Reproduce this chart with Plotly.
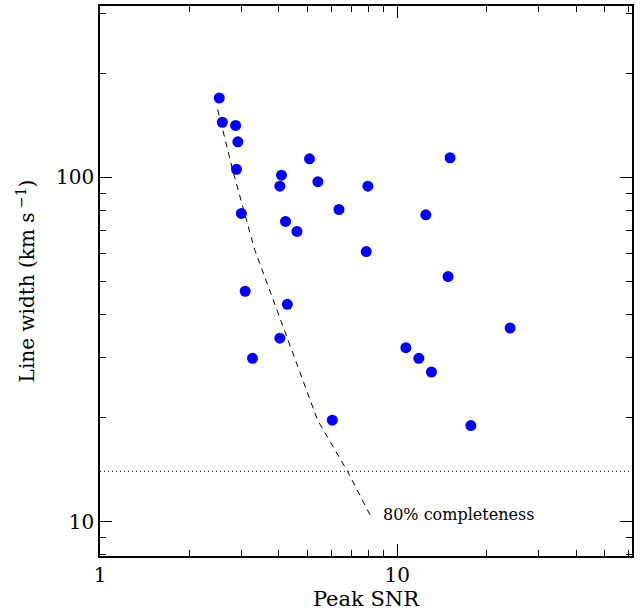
import math
import plotly.graph_objects as go

# Sources: peak signal-to-noise ratio and line width (km/s)
peak_snr = [2.52, 2.58, 2.86, 2.91, 2.88, 5.07, 4.08, 4.03, 5.41, 7.97,
            2.99, 6.37, 4.21, 4.60, 7.87, 15.07, 12.49, 14.84, 24.0, 10.70,
            11.83, 13.04, 3.26, 4.27, 4.03, 6.05, 17.7, 3.08]
line_width = [170.2, 144.7, 141.6, 126.9, 105.6, 113.3, 101.5, 94.3, 97.2, 94.3,
              78.6, 80.7, 74.5, 69.7, 60.9, 114.1, 77.9, 51.5, 36.5, 32.0,
              29.8, 27.2, 29.8, 42.8, 34.1, 19.7, 19.0, 46.7]

# 80% completeness limit curve
compl_snr = [2.49, 2.79, 3.31, 4.81, 5.40, 6.81, 8.21]
compl_width = [157.6, 105.8, 61.9, 26.1, 19.7, 13.98, 10.23]
compl_label = "80% completeness"
compl_label_pos = (8.81, 10.48)

# Horizontal reference level (km/s)
width_floor = 14.0

# Axis ticks
x_major = [1, 10]
x_minor = [2, 3, 4, 5, 6, 7, 8, 9, 20, 30, 40, 50, 60]
y_major = [10, 100]
y_minor = [8, 9, 20, 30, 40, 50, 60, 70, 80, 90, 200, 300]

x_range = [1.0, 61.7]
y_range = [7.94, 315.0]

FONT = "DejaVu Serif"

fig = go.Figure()

fig.add_trace(go.Scatter(
    x=compl_snr, y=compl_width, mode="lines",
    line=dict(color="black", width=1, dash="6px,5px"),
    hoverinfo="skip", showlegend=False,
))

fig.add_trace(go.Scatter(
    x=x_range, y=[width_floor, width_floor], mode="lines",
    line=dict(color="black", width=1, dash="1px,3px"),
    hoverinfo="skip", showlegend=False,
))

fig.add_trace(go.Scatter(
    x=peak_snr, y=line_width, mode="markers",
    marker=dict(color="#0000ff", size=11, line=dict(width=0)),
    showlegend=False,
))

# annotation positions on log axes are given in log10 units
fig.add_annotation(
    x=math.log10(compl_label_pos[0]), y=math.log10(compl_label_pos[1]),
    text=compl_label, showarrow=False,
    xanchor="left", yanchor="middle",
    font=dict(family=FONT, size=16, color="black"),
)

axis_common = dict(
    type="log",
    showgrid=False, zeroline=False,
    showline=True, linecolor="black", linewidth=1.5, mirror="ticks",
    ticks="inside", ticklen=12, tickwidth=1.2, tickcolor="black",
    tickfont=dict(family=FONT, size=20, color="black"),
)

fig.update_xaxes(
    **axis_common,
    range=[math.log10(x_range[0]), math.log10(x_range[1])],
    tickmode="array", tickvals=x_major, ticktext=[str(v) for v in x_major],
    minor=dict(tickmode="array", tickvals=x_minor, ticks="inside",
               ticklen=6, tickwidth=1.2, tickcolor="black", showgrid=False),
    title=dict(text="Peak SNR", font=dict(family=FONT, size=21, color="black"),
               standoff=6),
)

fig.update_yaxes(
    **axis_common,
    range=[math.log10(y_range[0]), math.log10(y_range[1])],
    tickmode="array", tickvals=y_major, ticktext=[str(v) for v in y_major],
    minor=dict(tickmode="array", tickvals=y_minor, ticks="inside",
               ticklen=6, tickwidth=1.2, tickcolor="black", showgrid=False),
    title=dict(text="Line width (km s<sup> −1</sup>)",
               font=dict(family=FONT, size=20, color="black"), standoff=16),
)

fig.update_layout(
    width=644, height=616,
    margin=dict(l=100, r=12, t=4, b=60),
    paper_bgcolor="white", plot_bgcolor="white",
)

fig.write_html("out.html")
